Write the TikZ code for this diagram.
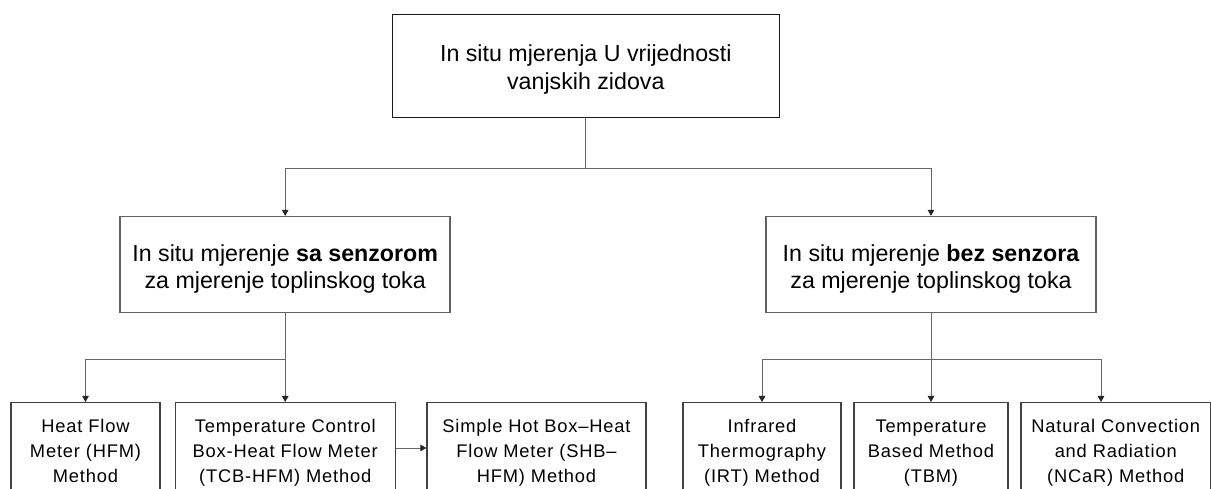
\documentclass[tikz,border=0pt]{standalone}
\usepackage{fontspec}
\setmainfont{Liberation Sans}
\usetikzlibrary{arrows.meta}
\begin{document}
\begin{tikzpicture}[x=1bp,y=-1bp,
  topbox/.style={draw=black!90, line width=1.2bp, minimum width=387bp, minimum height=103bp,
    align=center, inner sep=0pt, font=\fontsize{23.2bp}{28.3bp}\selectfont},
  midbox/.style={draw=black!62, line width=1.6bp, minimum width=330bp, minimum height=96bp,
    align=center, inner sep=0pt, font=\fontsize{23.2bp}{27.3bp}\selectfont},
  botbox/.style={draw=black!75, line width=1.2bp, anchor=north, align=center,
    inner xsep=0pt, inner ysep=17bp,
    font=\fontsize{18.3bp}{25bp}\selectfont\addfontfeatures{LetterSpace=4.5}},
  conn/.style={draw=black!60, line width=0.9bp, -{Triangle[length=6bp,width=6.5bp,color=black!85]}},
]
\useasboundingbox (0,0) rectangle (1211,489);
\clip (0,0) rectangle (1211,489);
\fill[white] (0,0) rectangle (1211,489);

\node[topbox] (top) at (585.8,66.2) {\rule{0pt}{22.8bp}In situ mjerenja U vrijednosti\\vanjskih zidova};

\node[midbox] (midL) at (285.2,264.7) {\rule{0pt}{24.8bp}In situ mjerenje {\bfseries sa senzorom}\\za mjerenje toplinskog toka};
\node[midbox] (midR) at (931,264.7) {\rule{0pt}{24.8bp}In situ mjerenje {\bfseries bez senzora}\\za mjerenje toplinskog toka};

\node[botbox, minimum width=149bp] (hfm) at (85.5,402) {Heat Flow\\Meter (HFM)\\Method};
\node[botbox, minimum width=220bp] (tcb) at (285.2,402) {Temperature Control\\Box-Heat Flow Meter\\(TCB-HFM) Method};
\node[botbox, minimum width=219bp] (shb) at (536.5,402) {Simple Hot Box–Heat\\Flow Meter (SHB–\\HFM) Method};
\node[botbox, minimum width=158bp] (irt) at (762,402) {Infrared\\Thermography\\(IRT) Method};
\node[botbox, minimum width=154bp] (tbm) at (931,402) {Temperature\\Based Method\\(TBM)};
\node[botbox, minimum width=189.5bp] (ncar) at (1115.75,402) {Natural Convection\\and Radiation\\(NCaR) Method};

\coordinate (ylev) at (0,448);

\draw[conn] (top.south) -- ++(0,50.5) -| (midL.north);
\draw[conn] (top.south) -- ++(0,50.5) -| (midR.north);
\draw[conn] (midL.south) -- ++(0,46) -| (hfm.north);
\draw[conn] (midL.south) -- (tcb.north);
\draw[conn] (tcb.east |- ylev) -- (shb.west |- ylev);
\draw[conn] (midR.south) -- ++(0,45.5) -| (irt.north);
\draw[conn] (midR.south) -- (tbm.north);
\draw[conn] (midR.south) -- ++(0,45.5) -| ([xshift=-14.75bp]ncar.north);
\end{tikzpicture}
\end{document}
